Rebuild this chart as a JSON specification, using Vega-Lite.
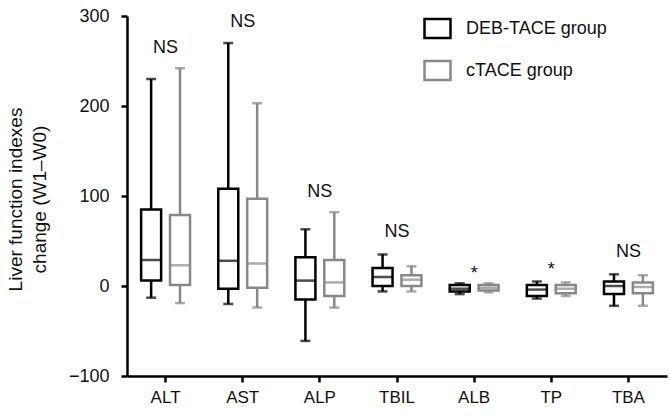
{
  "$schema": "https://vega.github.io/schema/vega-lite/v6.json",
  "autosize": "none",
  "padding": {"left": 127, "top": 16, "right": 3, "bottom": 42},
  "width": 540,
  "height": 360,
  "background": "white",
  "config": {
    "view": {"stroke": null},
    "font": "Liberation Sans",
    "axis": {"grid": false, "domainColor": "black", "domainWidth": 2.5, "tickColor": "black", "tickWidth": 2.5, "tickSize": 6, "labelColor": "#111111", "labelFontSize": 17, "labelFont": "Liberation Sans", "titleFont": "Liberation Sans", "titleFontWeight": "normal", "titleColor": "#111111"}
  },
  "datasets": {
    "stats": [
      {"cat": "ALT", "group": "DEB-TACE group", "min": -13, "q1": 6, "median": 29, "q3": 85, "max": 230},
      {"cat": "ALT", "group": "cTACE group", "min": -19, "q1": 1, "median": 23, "q3": 79, "max": 242},
      {"cat": "AST", "group": "DEB-TACE group", "min": -20, "q1": -3, "median": 28, "q3": 108, "max": 270},
      {"cat": "AST", "group": "cTACE group", "min": -24, "q1": -2, "median": 25, "q3": 97, "max": 203},
      {"cat": "ALP", "group": "DEB-TACE group", "min": -61, "q1": -15, "median": 6, "q3": 32, "max": 63},
      {"cat": "ALP", "group": "cTACE group", "min": -24, "q1": -11, "median": 4, "q3": 29, "max": 82},
      {"cat": "TBIL", "group": "DEB-TACE group", "min": -6, "q1": 0, "median": 10, "q3": 20, "max": 35},
      {"cat": "TBIL", "group": "cTACE group", "min": -6, "q1": 0, "median": 7, "q3": 12, "max": 22},
      {"cat": "ALB", "group": "DEB-TACE group", "min": -9, "q1": -6, "median": -3, "q3": 1, "max": 3},
      {"cat": "ALB", "group": "cTACE group", "min": -7, "q1": -5, "median": -2, "q3": 1, "max": 3},
      {"cat": "TP", "group": "DEB-TACE group", "min": -14, "q1": -11, "median": -4, "q3": 1, "max": 5},
      {"cat": "TP", "group": "cTACE group", "min": -11, "q1": -8, "median": -3, "q3": 1, "max": 4},
      {"cat": "TBA", "group": "DEB-TACE group", "min": -22, "q1": -9, "median": 0, "q3": 5, "max": 13},
      {"cat": "TBA", "group": "cTACE group", "min": -22, "q1": -8, "median": -1, "q3": 4, "max": 12}
    ],
    "notes": [
      {"cat": "ALT", "label": "NS", "y": 259},
      {"cat": "AST", "label": "NS", "y": 288},
      {"cat": "ALP", "label": "NS", "y": 99},
      {"cat": "TBIL", "label": "NS", "y": 54},
      {"cat": "ALB", "label": "*", "y": 8},
      {"cat": "TP", "label": "*", "y": 12},
      {"cat": "TBA", "label": "NS", "y": 32}
    ]
  },
  "encoding": {
    "x": {"field": "cat", "type": "nominal", "sort": ["ALT", "AST", "ALP", "TBIL", "ALB", "TP", "TBA"],
      "scale": {"paddingInner": 0, "paddingOuter": 0},
      "axis": {"title": null, "labelAngle": 0, "labelPadding": 7}}
  },
  "layer": [
    {
      "data": {"name": "stats"},
      "mark": {"type": "bar", "width": 20, "filled": false, "fill": "white", "strokeWidth": 2.5},
      "encoding": {
        "xOffset": {"field": "group", "type": "nominal", "scale": {"domain": ["DEB-TACE group", "cTACE group"], "padding": 0.67}},
        "y": {"field": "q1", "type": "quantitative", "scale": {"domain": [-100, 300], "nice": false},
          "axis": {"values": [-100, 0, 100, 200, 300], "labelFontSize": 18, "labelPadding": 12, "title": ["Liver function indexes", "change (W1\u2013W0)"], "titleFontSize": 19, "titleLineHeight": 24, "titleAngle": -90, "titleBaseline": "top", "titleAlign": "center", "titleX": -121, "titleY": 183}},
        "y2": {"field": "q3"},
        "color": {"field": "group", "type": "nominal", "scale": {"domain": ["DEB-TACE group", "cTACE group"], "range": ["#000000", "#888888"]},
          "legend": {"title": null, "orient": "none", "legendX": 296, "legendY": -2, "padding": 0,
            "symbolType": "M-1,-0.73H1V0.73H-1Z", "symbolSize": 676, "symbolStrokeWidth": 2.5, "symbolFillColor": "white",
            "labelFontSize": 18, "labelColor": "#111111", "labelFont": "Liberation Sans", "labelOffset": 14, "rowPadding": 13}}
      }
    },
    {
      "data": {"name": "stats"},
      "mark": {"type": "rule", "strokeWidth": 2.5},
      "encoding": {
        "xOffset": {"field": "group", "type": "nominal"},
        "y": {"field": "min", "type": "quantitative"},
        "y2": {"field": "q1"},
        "color": {"field": "group", "type": "nominal"}
      }
    },
    {
      "data": {"name": "stats"},
      "mark": {"type": "rule", "strokeWidth": 2.5},
      "encoding": {
        "xOffset": {"field": "group", "type": "nominal"},
        "y": {"field": "q3", "type": "quantitative"},
        "y2": {"field": "max"},
        "color": {"field": "group", "type": "nominal"}
      }
    },
    {
      "data": {"name": "stats"},
      "mark": {"type": "tick", "size": 8, "thickness": 0.5, "filled": false, "strokeWidth": 2},
      "encoding": {
        "xOffset": {"field": "group", "type": "nominal"},
        "y": {"field": "min", "type": "quantitative"},
        "color": {"field": "group", "type": "nominal"}
      }
    },
    {
      "data": {"name": "stats"},
      "mark": {"type": "tick", "size": 8, "thickness": 0.5, "filled": false, "strokeWidth": 2},
      "encoding": {
        "xOffset": {"field": "group", "type": "nominal"},
        "y": {"field": "max", "type": "quantitative"},
        "color": {"field": "group", "type": "nominal"}
      }
    },
    {
      "data": {"name": "stats"},
      "mark": {"type": "tick", "size": 18, "thickness": 0.5, "filled": false, "strokeWidth": 2},
      "encoding": {
        "xOffset": {"field": "group", "type": "nominal"},
        "y": {"field": "median", "type": "quantitative"},
        "color": {"field": "group", "type": "nominal"}
      }
    },
    {
      "data": {"name": "notes"},
      "mark": {"type": "text", "fontSize": 18, "baseline": "alphabetic", "align": "center", "color": "#111111"},
      "encoding": {
        "y": {"field": "y", "type": "quantitative"},
        "text": {"field": "label"}
      }
    }
  ]
}
